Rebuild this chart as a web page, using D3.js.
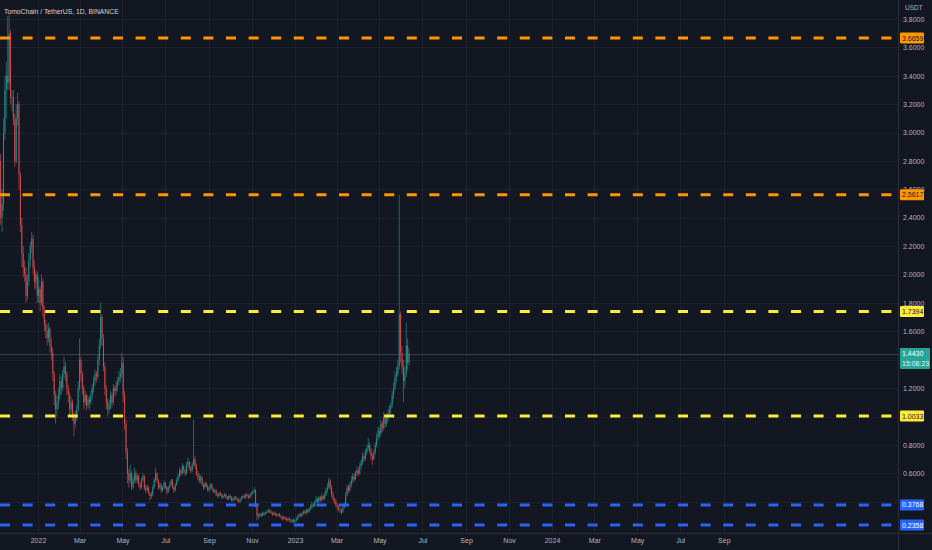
<!DOCTYPE html>
<html><head><meta charset="utf-8">
<script src="https://cdn.jsdelivr.net/npm/d3@7"></script>
<style>html,body{margin:0;padding:0;background:#131722;overflow:hidden}</style>
</head><body><svg id="c" width="932" height="550"></svg>
<script>
const title = "TomoChain / TetherUS, 1D, BINANCE";
const currency = "USDT";
const firstDate = "2021-11-08";
const barDays = 2;
const firstOpen = 2.8;
const closes = [
2.4,2.5,3.0,3.3,3.4,3.35,3.7,3.25,3.25,3.1,2.8,3.1,3.2,2.7,
2.35,2.15,2.05,
2.0,1.85,1.95,2.1,
2.2,2.25,2.05,
1.95,2.0,1.85,1.9,
1.8,1.95,1.75,1.65,
1.6,1.55,1.62,1.5,1.45,
1.3,1.15,1.05,
1.1,1.15,1.25,1.2,1.3,
1.35,1.3,1.2,
1.15,1.05,1.1,1.0,
0.95,1.0,1.05,
1.2,1.4,1.3,
1.2,1.1,1.15,1.08,1.12,1.1,
1.15,1.2,1.25,1.3,1.28,1.4,1.5,
1.7,
1.55,1.35,1.2,1.1,1.05,
1.08,1.15,1.1,1.2,1.18,1.22,1.25,
1.28,1.3,1.38,
1.15,0.95,0.75,0.6,
0.55,0.6,0.5,0.55,0.6,
0.55,0.58,0.52,0.5,0.55,0.58,0.5,0.48,0.5,0.46,0.44,
0.45,0.5,0.55,0.6,0.55,0.5,0.52,
0.48,0.5,0.53,0.5,0.47,0.5,0.52,0.55,0.5,0.48,0.52,0.55,
0.58,0.62,0.6,0.65,0.62,0.6,0.66,0.68,0.64,0.62,0.66,
0.7,
0.65,0.6,0.58,0.55,
0.57,0.52,0.5,0.53,0.51,0.48,0.5,0.52,0.49,0.47,0.48,
0.45,0.44,0.46,0.45,0.43,0.44,0.45,0.43,0.42,0.44,0.43,0.41,0.42,0.43,0.42,0.41,0.4,
0.42,0.43,0.44,0.43,0.45,0.44,0.43,0.45,0.46,0.47,0.48,
0.38,0.3,
0.3,0.31,0.3,0.32,0.31,0.32,0.33,0.34,0.33,0.32,0.31,0.32,0.31,0.3,0.31,0.3,
0.29,0.28,0.29,0.28,0.27,0.28,0.27,0.26,0.27,0.26,0.27,
0.28,0.3,0.31,0.3,0.32,0.33,0.32,0.34,0.33,0.35,
0.36,0.38,0.37,0.4,0.42,0.4,0.43,0.41,0.44,0.42,0.45,
0.48,0.5,0.55,
0.5,0.45,0.42,0.4,0.38,0.36,0.35,
0.34,0.33,0.36,0.38,
0.45,0.5,0.48,0.52,
0.55,0.58,0.56,0.6,0.62,0.6,0.65,
0.68,0.72,0.7,0.75,0.78,0.8,0.76,
0.72,0.7,0.75,
0.8,0.85,0.9,0.88,0.95,0.92,1.0,
0.95,0.98,1.02,1.05,1.08,
1.15,1.2,1.28,1.3,1.35,
1.72,
1.45,1.35,1.25,1.3,1.5,1.38,1.443
];
const highs = [
2.85,2.6,3.1,3.4,3.5,3.82,3.83,3.72,3.3,3.3,3.13,3.2,3.28,3.22,
2.72,2.4,2.2,
2.1,2.05,2.0,2.15,
2.23,2.3,2.28,
2.1,2.03,2.02,1.98,
1.92,2.0,1.97,1.78,
1.68,1.65,1.66,1.63,1.55,
1.48,1.32,1.18,
1.15,1.2,1.3,1.28,1.33,
1.42,1.38,1.32,
1.22,1.17,1.14,1.12,
1.03,1.04,1.08,
1.25,1.55,1.42,
1.32,1.22,1.18,1.16,1.15,1.14,
1.18,1.23,1.28,1.33,1.32,1.43,1.55,
1.8,
1.72,1.58,1.38,1.22,1.13,
1.12,1.18,1.17,1.23,1.22,1.25,1.28,
1.32,1.34,1.45,
1.42,1.18,0.98,0.78,
0.63,0.66,0.62,0.58,0.64,
0.62,0.6,0.59,0.54,0.57,0.6,0.59,0.52,0.52,0.51,0.47,
0.47,0.52,0.57,0.64,0.61,0.56,0.54,
0.53,0.51,0.55,0.54,0.51,0.51,0.54,0.56,0.56,0.51,0.53,0.57,
0.6,0.64,0.63,0.67,0.66,0.63,0.68,0.71,0.69,0.65,0.68,
0.98,
0.72,0.67,0.62,0.6,
0.59,0.58,0.53,0.54,0.54,0.52,0.51,0.53,0.53,0.5,0.49,
0.49,0.46,0.47,0.47,0.46,0.45,0.46,0.46,0.44,0.45,0.45,0.44,0.43,0.44,0.44,0.43,0.42,
0.43,0.44,0.45,0.45,0.46,0.46,0.45,0.46,0.47,0.48,0.5,
0.49,0.39,
0.32,0.32,0.32,0.33,0.33,0.33,0.34,0.35,0.35,0.34,0.33,0.33,0.33,0.32,0.32,0.32,
0.31,0.3,0.3,0.3,0.29,0.29,0.29,0.28,0.28,0.28,0.28,
0.29,0.31,0.32,0.32,0.33,0.34,0.34,0.35,0.35,0.36,
0.38,0.4,0.39,0.41,0.44,0.43,0.44,0.44,0.46,0.45,0.47,
0.5,0.53,0.57,
0.56,0.52,0.47,0.43,0.42,0.39,0.38,
0.36,0.35,0.37,0.39,
0.47,0.52,0.52,0.54,
0.58,0.6,0.6,0.62,0.65,0.64,0.67,
0.7,0.75,0.74,0.77,0.8,0.85,0.82,
0.78,0.74,0.77,
0.82,0.88,0.93,0.92,0.98,0.97,1.03,
1.02,1.0,1.05,1.08,1.1,
1.18,1.24,1.32,1.35,1.4,
2.56,
1.74,1.5,1.4,1.35,1.66,1.55,1.48
];
const lows = [
2.35,2.3,2.45,2.95,3.1,3.3,3.3,3.2,3.15,3.05,2.76,2.78,3.05,2.6,
2.3,2.05,1.98,
1.95,1.8,1.82,1.92,
2.05,2.15,2.0,
1.9,1.9,1.8,1.8,
1.74,1.78,1.7,1.6,
1.55,1.5,1.52,1.45,1.4,
1.25,1.08,0.95,
1.0,1.05,1.12,1.15,1.18,
1.27,1.25,1.15,
1.1,1.0,1.02,0.97,
0.86,0.92,0.97,
1.03,1.18,1.25,
1.15,1.05,1.07,1.04,1.06,1.05,
1.08,1.12,1.17,1.22,1.24,1.26,1.36,
1.48,
1.5,1.32,1.15,1.05,1.0,
1.02,1.05,1.06,1.08,1.14,1.15,1.18,
1.22,1.24,1.27,
1.1,0.9,0.7,0.53,
0.5,0.53,0.48,0.49,0.53,
0.53,0.53,0.5,0.48,0.49,0.54,0.48,0.46,0.47,0.45,0.41,
0.42,0.44,0.49,0.54,0.53,0.48,0.49,
0.46,0.47,0.49,0.49,0.45,0.46,0.49,0.51,0.49,0.46,0.47,0.51,
0.54,0.57,0.58,0.59,0.6,0.58,0.59,0.64,0.62,0.6,0.61,
0.65,
0.63,0.58,0.55,0.53,
0.53,0.51,0.48,0.49,0.5,0.47,0.47,0.49,0.48,0.46,0.46,
0.44,0.43,0.43,0.44,0.42,0.42,0.43,0.42,0.41,0.41,0.42,0.4,0.4,0.41,0.41,0.4,0.39,
0.39,0.41,0.42,0.42,0.42,0.43,0.42,0.42,0.44,0.45,0.46,
0.36,0.27,
0.28,0.29,0.29,0.3,0.3,0.31,0.32,0.32,0.32,0.31,0.3,0.3,0.3,0.29,0.3,0.29,
0.28,0.27,0.27,0.27,0.26,0.26,0.26,0.25,0.25,0.25,0.25,
0.26,0.27,0.29,0.29,0.29,0.31,0.31,0.31,0.32,0.32,
0.34,0.35,0.36,0.36,0.39,0.39,0.39,0.4,0.4,0.41,0.41,
0.44,0.46,0.49,
0.48,0.43,0.4,0.38,0.36,0.34,0.33,
0.32,0.31,0.32,0.35,
0.37,0.44,0.46,0.47,
0.5,0.53,0.54,0.55,0.58,0.58,0.59,
0.63,0.66,0.68,0.69,0.73,0.76,0.74,
0.69,0.66,0.69,
0.73,0.78,0.83,0.85,0.86,0.89,0.9,
0.92,0.93,0.96,1.0,1.02,
1.06,1.12,1.18,1.24,1.28,
1.33,
1.38,1.3,1.1,1.2,1.28,1.33,1.36
];
const priceTicks = [0.4,0.6,0.8,1.0,1.2,1.4,1.6,1.8,2.0,2.2,2.4,2.6,2.8,3.0,3.2,3.4,3.6,3.8];
const timeTicks = ["2022-01-01","2022-03-01","2022-05-01","2022-07-01","2022-09-01","2022-11-01","2023-01-01","2023-03-01","2023-05-01","2023-07-01","2023-09-01","2023-11-01","2024-01-01","2024-03-01","2024-05-01","2024-07-01","2024-09-01"];
const timeTickLabels = ["2022","Mar","May","Jul","Sep","Nov","2023","Mar","May","Jul","Sep","Nov","2024","Mar","May","Jul","Sep"];
const levels = [3.6659, 2.5617, 1.7394, 1.0033, 0.3768, 0.2358];
const levelGroups = ["outer","outer","middle","middle","inner","inner"];
const lastPrice = 1.4430;
const countdown = "15:08:23";

// ---- drawing ----
const W = 932, H = 550, plotW = 898, plotH = 533;
const BG = "#131722", GRID = "#1d212c", SEP = "#2a2e39", TXT = "#b2b5be";
const UP = "#26a69a", DOWN = "#ef5350";
const groupStyle = {outer:{c:"#ff9800",t:"#131722"}, middle:{c:"#ffeb3b",t:"#131722"}, inner:{c:"#2962ff",t:"#ffffff"}};
const FONT = "Liberation Sans, Arial, sans-serif";

const svg = d3.select("#c");
svg.append("rect").attr("width",W).attr("height",H).attr("fill",BG);

const x = d3.scaleUtc().domain([new Date("2022-01-01T00:00:00Z"), new Date("2024-01-01T00:00:00Z")]).range([38, 552]);
const y = d3.scaleLinear().domain([0.2358, 3.6659]).range([525, 38]);

const t0 = new Date(firstDate + "T00:00:00Z");
const DAY = 86400000;
const bars = closes.map((c,i)=>({
  t: new Date(t0.getTime() + i*barDays*DAY),
  o: i===0 ? firstOpen : closes[i-1], c, h: highs[i], l: lows[i]
}));

svg.append("defs").append("clipPath").attr("id","plot").append("rect").attr("width",plotW).attr("height",plotH);

// grid
const grid = svg.append("g");
grid.selectAll("line.v").data(timeTicks).join("line")
  .attr("x1",d=>Math.round(x(new Date(d+"T00:00:00Z")))+0.5).attr("x2",d=>Math.round(x(new Date(d+"T00:00:00Z")))+0.5)
  .attr("y1",0).attr("y2",plotH).attr("stroke",GRID).attr("stroke-width",1);
grid.selectAll("line.h").data(priceTicks).join("line")
  .attr("y1",d=>Math.round(y(d))+0.5).attr("y2",d=>Math.round(y(d))+0.5)
  .attr("x1",0).attr("x2",plotW).attr("stroke",GRID).attr("stroke-width",1);

const plot = svg.append("g").attr("clip-path","url(#plot)");

// current price line
plot.append("line").attr("x1",0).attr("x2",plotW)
  .attr("y1",Math.round(y(lastPrice))+0.5).attr("y2",Math.round(y(lastPrice))+0.5)
  .attr("stroke","#3a3f4c").attr("stroke-width",1);

// candles
const half = barDays*DAY/2;
const cx = d => x(new Date(d.t.getTime()+half));
const cg = plot.append("g");
cg.selectAll("line").data(bars).join("line")
  .attr("x1",cx).attr("x2",cx).attr("y1",d=>y(d.h)).attr("y2",d=>y(d.l))
  .attr("stroke",d=>d.c>=d.o?UP:DOWN).attr("stroke-width",0.8).attr("stroke-opacity",0.7);
cg.selectAll("rect").data(bars).join("rect")
  .attr("x",d=>cx(d)-0.5).attr("width",1)
  .attr("y",d=>y(Math.max(d.o,d.c))).attr("height",d=>Math.max(0.8, Math.abs(y(d.o)-y(d.c))))
  .attr("fill",d=>d.c>=d.o?UP:DOWN).attr("fill-opacity",0.7);

// level lines
plot.selectAll("line.lv").data(levels).join("line").attr("class","lv")
  .attr("x1",0).attr("x2",plotW).attr("y1",d=>y(d)).attr("y2",d=>y(d))
  .attr("stroke",(d,i)=>groupStyle[levelGroups[i]].c).attr("stroke-width",3)
  .attr("stroke-dasharray","10,12.6");

// separators
svg.append("line").attr("x1",plotW+0.5).attr("x2",plotW+0.5).attr("y1",0).attr("y2",H).attr("stroke",SEP);
svg.append("line").attr("x1",0).attr("x2",W).attr("y1",plotH+0.5).attr("y2",plotH+0.5).attr("stroke",SEP);

// price axis (tick texts that sit fully under a label box are hidden, as in the reference)
const ly = y(lastPrice);
const covered = v => (y(v) > ly-8 && y(v) < ly+20) || levels.some(l => Math.abs(y(l)-y(v)) < 4);
const ya = svg.append("g").attr("transform",`translate(${plotW},0)`)
  .call(d3.axisRight(y).tickValues(priceTicks.filter(v=>!covered(v))).tickFormat(d3.format(".4f")).tickSize(0).tickPadding(5));
ya.select(".domain").remove();
ya.selectAll("text").attr("fill",TXT).attr("font-size",7).attr("font-family",FONT);

// time axis
const xa = svg.append("g").attr("transform",`translate(0,${plotH})`)
  .call(d3.axisBottom(x).tickValues(timeTicks.map(d=>new Date(d+"T00:00:00Z"))).tickFormat((d,i)=>timeTickLabels[i]).tickSize(0).tickPadding(5));
xa.select(".domain").remove();
xa.selectAll("text").attr("fill",TXT).attr("font-size",7).attr("font-family",FONT);

// currency
svg.append("text").attr("x",905).attr("y",10).attr("fill",TXT).attr("font-size",6.5).attr("font-family",FONT).text(currency);

// level labels
const lg = svg.append("g");
levels.forEach((v,i)=>{
  const s = groupStyle[levelGroups[i]];
  const yy = y(v);
  lg.append("rect").attr("x",900).attr("y",yy-5.5).attr("width",24).attr("height",11).attr("rx",1).attr("fill",s.c);
  lg.append("text").attr("x",902).attr("y",yy+2.5).attr("fill",s.t).attr("font-size",7).attr("font-family",FONT).text(d3.format(".4f")(v));
});

// last price label
lg.append("rect").attr("x",900).attr("y",ly-5.5).attr("width",30).attr("height",21).attr("rx",1).attr("fill",UP);
lg.append("text").attr("x",902).attr("y",ly+2).attr("fill","#fff").attr("font-size",7).attr("font-family",FONT).text(d3.format(".4f")(lastPrice));
lg.append("text").attr("x",902).attr("y",ly+12.5).attr("fill","#e0f2f1").attr("font-size",7).attr("font-family",FONT).text(countdown);

// title
svg.append("text").attr("x",4).attr("y",13.5).attr("fill","#d1d4dc").attr("font-size",6.8).attr("font-family",FONT).text(title);
</script></body></html>
